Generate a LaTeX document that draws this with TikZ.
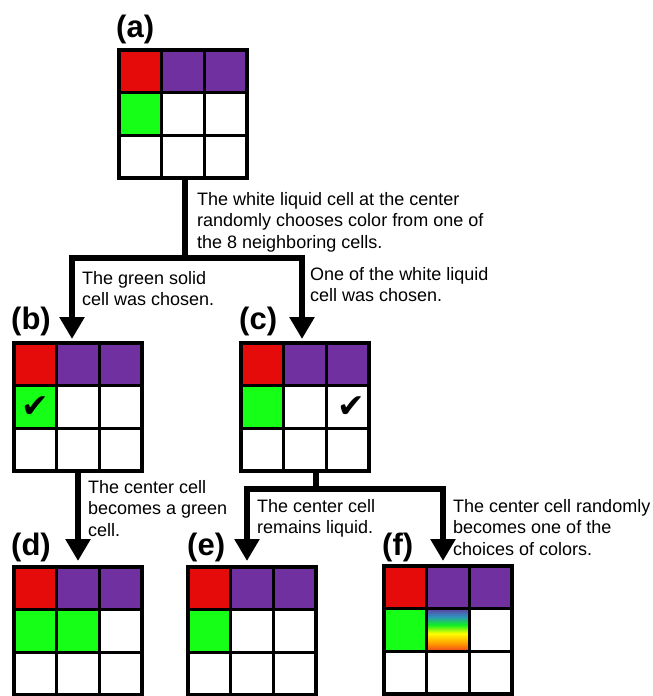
\documentclass[tikz,border=0pt]{standalone}
\usepackage{fontspec}
\setmainfont{Liberation Sans}
\newfontfamily\symfont{DejaVu Sans}
\usetikzlibrary{arrows.meta}
\definecolor{cred}{HTML}{E60B0B}
\definecolor{cpurple}{HTML}{7030A0}
\definecolor{cgreen}{HTML}{16FF16}
\definecolor{rbred}{HTML}{EE4020}
\definecolor{rborange}{HTML}{FF9A00}
\definecolor{rbyellow}{HTML}{FFFF00}
\definecolor{rbgreen}{HTML}{10F020}
\definecolor{rbblue}{HTML}{3090C0}
\definecolor{rbpurple}{HTML}{6040A0}
\pgfdeclareverticalshading{rainbow}{100bp}{color(0bp)=(rbred); color(25bp)=(rbred); color(34bp)=(rborange); color(46bp)=(rbyellow); color(56bp)=(rbgreen); color(66bp)=(rbblue); color(75bp)=(rbpurple); color(100bp)=(rbpurple)}
\newcommand\cs{42.667}
\newcommand\fillcell[3]{\fill[#3] (#1*\cs,#2*\cs) rectangle ++(\cs,\cs);}
\newcommand\basefills{\fillcell{0}{0}{cred}\fillcell{1}{0}{cpurple}\fillcell{2}{0}{cpurple}\fillcell{0}{1}{cgreen}}
\newcommand\cellgrid[3]{%
  \begin{scope}[shift={#2}]
    #3
    \foreach \k in {1,2} {
      \draw[gridline] (\k*\cs,0) -- (\k*\cs,128);
      \draw[gridline] (0,\k*\cs) -- (128,\k*\cs);
    }
    \node[gridbox] (#1) at (64,64) {};
  \end{scope}}
\tikzset{
  gridline/.style={line width=3pt},
  gridbox/.style={draw, line width=4pt, minimum size=128pt, inner sep=0pt},
  conn/.style={line width=6pt},
  arr/.style={conn, -{Triangle[width=24pt,length=22pt]}},
  txt/.style={font=\fontsize{18}{21.5}\selectfont, align=left, inner sep=0pt, anchor=north west},
  lab/.style={font=\fontsize{31}{31}\selectfont\bfseries, inner sep=0pt, anchor=base west},
  check/.style={font=\fontsize{33}{33}\symfont, inner sep=0pt}
}
\begin{document}
\begin{tikzpicture}[x=1pt, y=-1pt]
\useasboundingbox (0,0) rectangle (653,696);

\cellgrid{a}{(119,50)}{\basefills}
\cellgrid{b}{(14,343)}{\basefills}
\cellgrid{c}{(241,343)}{\basefills}
\cellgrid{d}{(14,567)}{\basefills\fillcell{1}{1}{cgreen}}
\cellgrid{e}{(188,567)}{\basefills}
\cellgrid{f}{(384,566)}{\basefills\shade[shading=rainbow] (\cs,\cs) rectangle ++(\cs,\cs);}

\node[check] (chkb) at (35.5,407) {✔};
\node[check] (chkc) at (351,407) {✔};

\node[lab] (la) at (116,37) {(a)};
\node[lab] (lb) at (11,329) {(b)};
\node[lab] (lc) at (239,329) {(c)};
\node[lab] (ld) at (11,555) {(d)};
\node[lab] (le) at (187,555) {(e)};
\node[lab] (lf) at (382,555) {(f)};

\coordinate (ja) at (185,258);
\coordinate (tb) at (72,339);
\coordinate (tc) at (302,339);
\coordinate (td) at (78,561);
\coordinate (jc) at (316,489);
\coordinate (te) at (247,561);
\coordinate (tf) at (443,561);

\draw[conn] (ja |- a.south) -- (ja);
\draw[arr] (ja) -| (tb);
\draw[arr] (ja) -| (tc);
\draw[arr] (td |- b.south) -- (td);
\draw[conn] (jc |- c.south) -- (jc);
\draw[arr] (jc) -| (te);
\draw[arr] (jc) -| (tf);

\node[txt] (t1) at (197,192) {The white liquid cell at the center\\randomly chooses color from one of\\the 8 neighboring cells.};
\node[txt] (t2) at (82,271) {The green solid\\cell was chosen.};
\node[txt] (t3) at (310,267) {One of the white liquid\\cell was chosen.};
\node[txt] (t4) at (88,480) {The center cell\\becomes a green\\cell.};
\node[txt] (t5) at (257,499) {The center cell\\remains liquid.};
\node[txt] (t6) at (453,499) {The center cell randomly\\becomes one of the\\choices of colors.};
\end{tikzpicture}
\end{document}
